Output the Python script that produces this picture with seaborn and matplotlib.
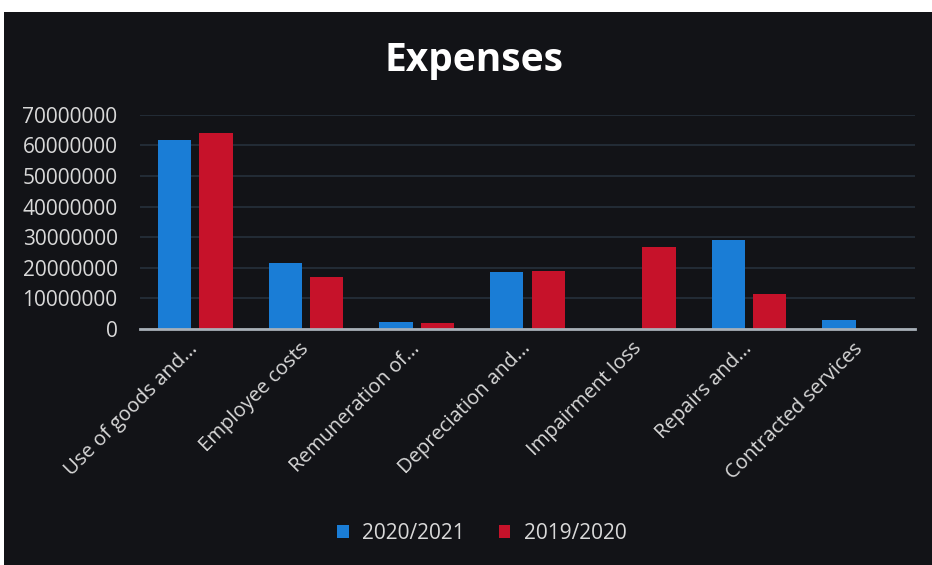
import matplotlib
matplotlib.use("Agg")
import matplotlib.pyplot as plt
import seaborn as sns
import pandas as pd
from matplotlib.patches import Rectangle

categories = ["Use of goods and...", "Employee costs", "Remuneration of...",
              "Depreciation and...", "Impairment loss", "Repairs and...",
              "Contracted services"]
series_names = ["2020/2021", "2019/2020"]
values_2021 = [61800000, 21600000, 2200000, 18600000, 0, 29000000, 3000000]
values_2020 = [64000000, 17000000, 2000000, 19000000, 26800000, 11400000, 0]
y_ticks = [0, 10000000, 20000000, 30000000, 40000000, 50000000, 60000000, 70000000]

df = pd.DataFrame({
    "category": categories * 2,
    "series": [series_names[0]] * len(categories) + [series_names[1]] * len(categories),
    "value": values_2021 + values_2020,
})

sns.set_theme(style="dark")
plt.rcParams['font.family'] = ['Open Sans', 'DejaVu Sans']

bg = "#121317"
txt = "#d9d9d9"
fig = plt.figure(figsize=(9.32, 5.65), dpi=100)
fig.patch.set_facecolor("white")
fig.patches.append(Rectangle((0.004, 0), 0.996, 1 - 12 / 565, transform=fig.transFigure,
                             facecolor=bg, edgecolor="none", zorder=-10))

ax = fig.add_axes([0.150, 0.4177, 0.832, 0.379])
ax.set_facecolor(bg)
sns.barplot(data=df, x="category", y="value", hue="series", order=categories,
            hue_order=series_names, palette=["#1a7dd6", "#c6122a"],
            width=0.75, gap=0.2, ax=ax, legend=True, saturation=1)
for p in ax.patches:
    p.set_edgecolor("none")

ax.set_ylim(0, 70000000)
ax.set_yticks(y_ticks)
ax.set_yticklabels([str(v) for v in y_ticks], color=txt, fontsize=15)
ax.set_xlim(-0.5, len(categories) - 0.5)
ax.set_xlabel("")
ax.set_ylabel("")
ax.tick_params(axis="y", length=0, pad=16)
ax.tick_params(axis="x", length=0, pad=12)
plt.setp(ax.get_xticklabels(), rotation=45, ha="right", va="center",
         rotation_mode="anchor", color=txt, fontsize=14.5)
ax.grid(axis="y", color="#26303c", linewidth=1.2, linestyle="-")
ax.grid(axis="x", visible=False)
ax.set_axisbelow(True)
for s in ["top", "right", "left"]:
    ax.spines[s].set_visible(False)
ax.spines["bottom"].set_color("#a8b0b8")
ax.spines["bottom"].set_linewidth(2)

fig.text(0.509, 1 - 71 / 565, "Expenses", ha="center", va="baseline", color="white",
         fontsize=28, fontweight="bold")

handles, labels = ax.get_legend_handles_labels()
for h in handles:
    h.set_edgecolor("none")
ax.get_legend().remove()
fig.legend(handles, labels, loc="center", bbox_to_anchor=(0.517, 0.056), ncol=2,
           frameon=False, fontsize=15, labelcolor=txt, handlelength=0.55,
           handleheight=0.55, handletextpad=0.65, columnspacing=1.6)

fig.savefig("out.png", dpi=100, facecolor=fig.get_facecolor())
